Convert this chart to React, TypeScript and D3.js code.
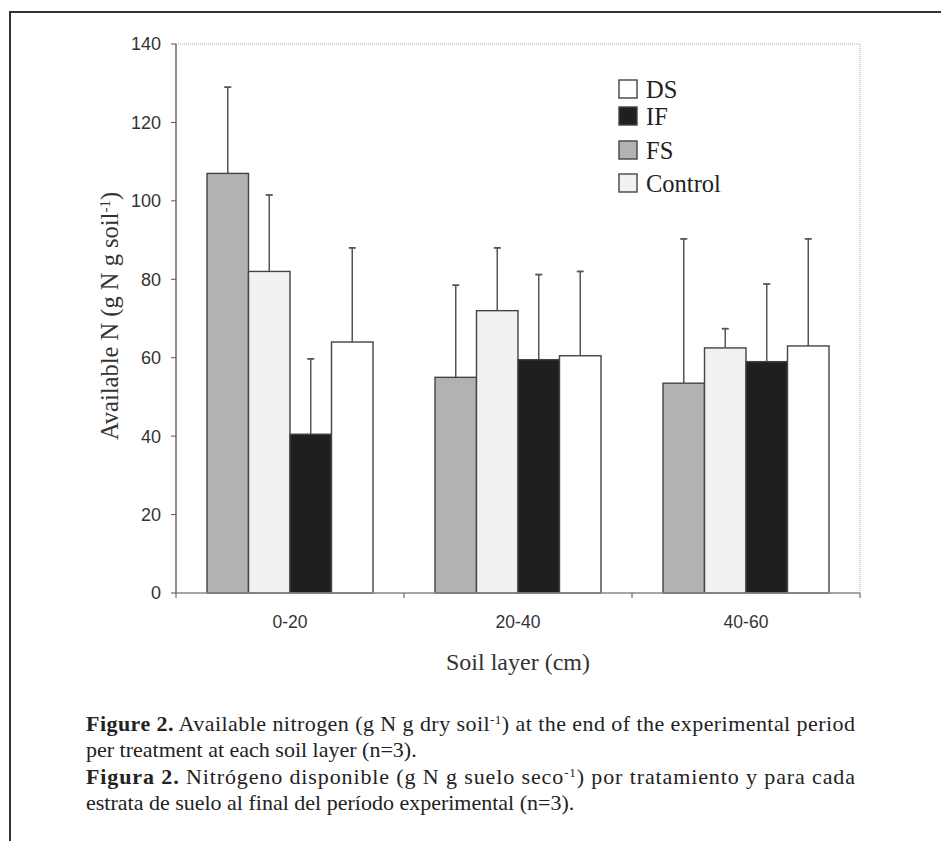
import React from "react";
import * as d3 from "d3";

const layers = ["0-20", "20-40", "40-60"];
const treatments = ["FS", "Control", "IF", "DS"];
const legendOrder = ["DS", "IF", "FS", "Control"];
// mean available N per layer, in treatment order FS, Control, IF, DS
const meanFS = [107, 55, 53.5];
const meanControl = [82, 72, 62.5];
const meanIF = [40.5, 59.5, 59];
const meanDS = [64, 60.5, 63];
// top of the error bar
const errFS = [129, 78.5, 90.3];
const errControl = [101.5, 88, 67.4];
const errIF = [59.7, 81.2, 78.8];
const errDS = [88, 82, 90.3];
const yTicks = [0, 20, 40, 60, 80, 100, 120, 140];

const fills: Record<string, string> = {
  FS: "#b2b2b2",
  Control: "#f1f1f1",
  IF: "#1f1f1f",
  DS: "#ffffff",
};

const means: Record<string, number[]> = { FS: meanFS, Control: meanControl, IF: meanIF, DS: meanDS };
const errs: Record<string, number[]> = { FS: errFS, Control: errControl, IF: errIF, DS: errDS };

const W = 941;
const H = 841;
const left = 176;
const right = 860;
const top = 44;
const bottom = 593;

export default function App() {
  const y = d3.scaleLinear().domain([0, 140]).range([bottom, top]);
  const x = d3.scaleBand().domain(layers).range([left, right]).paddingInner(0).paddingOuter(0);
  const xs = d3
    .scaleBand()
    .domain(treatments)
    .range([0, x.bandwidth()])
    .paddingInner(0)
    .paddingOuter(0.747);

  const axisColor = "#555";
  const serif = "'Liberation Serif', 'Times New Roman', serif";
  const sans = "'Liberation Sans', Arial, sans-serif";

  return (
    <svg
      width={W}
      height={H}
      style={{ position: "absolute", left: 0, top: 0, background: "#fff" }}
    >
      {/* page frame */}
      <path d={`M10,${H} V12 H${W}`} fill="none" stroke="#333" strokeWidth={2} />

      {/* dotted top and right plot border */}
      <path
        d={`M${left},${top} H${right} V${bottom}`}
        fill="none"
        stroke="#aaa"
        strokeWidth={1}
        strokeDasharray="1,1"
      />

      {/* bars */}
      {layers.map((layer, i) => (
        <g key={layer} transform={`translate(${x(layer)},0)`}>
          {treatments.map((t) => {
            const bx = xs(t)!;
            const bw = xs.bandwidth();
            const cx = bx + bw / 2;
            const v = means[t][i];
            const e = errs[t][i];
            return (
              <g key={t}>
                <line x1={cx} x2={cx} y1={y(v)} y2={y(e)} stroke="#555" strokeWidth={1.5} />
                <line x1={cx - 3.5} x2={cx + 3.5} y1={y(e)} y2={y(e)} stroke="#555" strokeWidth={1.8} />
                <rect
                  x={bx}
                  y={y(v)}
                  width={bw}
                  height={y(0) - y(v)}
                  fill={fills[t]}
                  stroke="#444"
                  strokeWidth={1.4}
                />
              </g>
            );
          })}
        </g>
      ))}

      {/* y axis */}
      <line x1={left} x2={left} y1={top} y2={bottom} stroke={axisColor} strokeWidth={1.3} />
      {yTicks.map((t) => (
        <g key={t}>
          <line x1={left - 5} x2={left} y1={y(t)} y2={y(t)} stroke={axisColor} strokeWidth={1} />
          <text
            x={left - 15}
            y={y(t)}
            dy="0.36em"
            textAnchor="end"
            fontFamily={sans}
            fontSize={18}
            fill="#333"
          >
            {t}
          </text>
        </g>
      ))}

      {/* x axis */}
      <line x1={left} x2={right} y1={bottom} y2={bottom} stroke="#888" strokeWidth={1.3} />
      {[...layers.map((l) => x(l)!), right].map((px, i) => (
        <line key={i} x1={px} x2={px} y1={bottom} y2={bottom + 5} stroke={axisColor} strokeWidth={1} />
      ))}
      {layers.map((l) => (
        <text
          key={l}
          x={x(l)! + x.bandwidth() / 2}
          y={628}
          textAnchor="middle"
          fontFamily={sans}
          fontSize={17.5}
          fill="#333"
        >
          {l}
        </text>
      ))}

      {/* axis titles */}
      <text x={518} y={670} textAnchor="middle" fontFamily={serif} fontSize={24} fill="#333">
        Soil layer (cm)
      </text>
      <text
        transform={`translate(118,316) rotate(-90)`}
        textAnchor="middle"
        fontFamily={serif}
        fontSize={24.5}
        fill="#333"
      >
        Available N (g N g soil
        <tspan dy={-8} fontSize={15}>-1</tspan>
        <tspan dy={8}>)</tspan>
      </text>

      {/* legend */}
      {legendOrder.map((t, i) => {
        const ly = [80, 107, 141, 174][i];
        return (
          <g key={t}>
            <rect x={619} y={ly} width={18} height={18} fill={fills[t]} stroke="#444" strokeWidth={1.4} />
            <text x={646} y={ly + 18} fontFamily={serif} fontSize={24.5} fill="#222">
              {t}
            </text>
          </g>
        );
      })}

      {/* caption */}
      <g fontFamily={serif} fontSize={22} fill="#222">
        <text x={86} y={731} textLength={769} lengthAdjust="spacing">
          <tspan fontWeight="bold">Figure 2.</tspan> Available nitrogen (g N g dry soil
          <tspan dy={-7} fontSize={13}>-1</tspan>
          <tspan dy={7}>) at the end of the experimental period</tspan>
        </text>
        <text x={86} y={757}>
          per treatment at each soil layer (n=3).
        </text>
        <text x={86} y={784} textLength={769} lengthAdjust="spacing">
          <tspan fontWeight="bold">Figura 2.</tspan> Nitrógeno disponible (g N g suelo seco
          <tspan dy={-7} fontSize={13}>-1</tspan>
          <tspan dy={7}>) por tratamiento y para cada</tspan>
        </text>
        <text x={86} y={810}>
          estrata de suelo al final del período experimental (n=3).
        </text>
      </g>
    </svg>
  );
}
